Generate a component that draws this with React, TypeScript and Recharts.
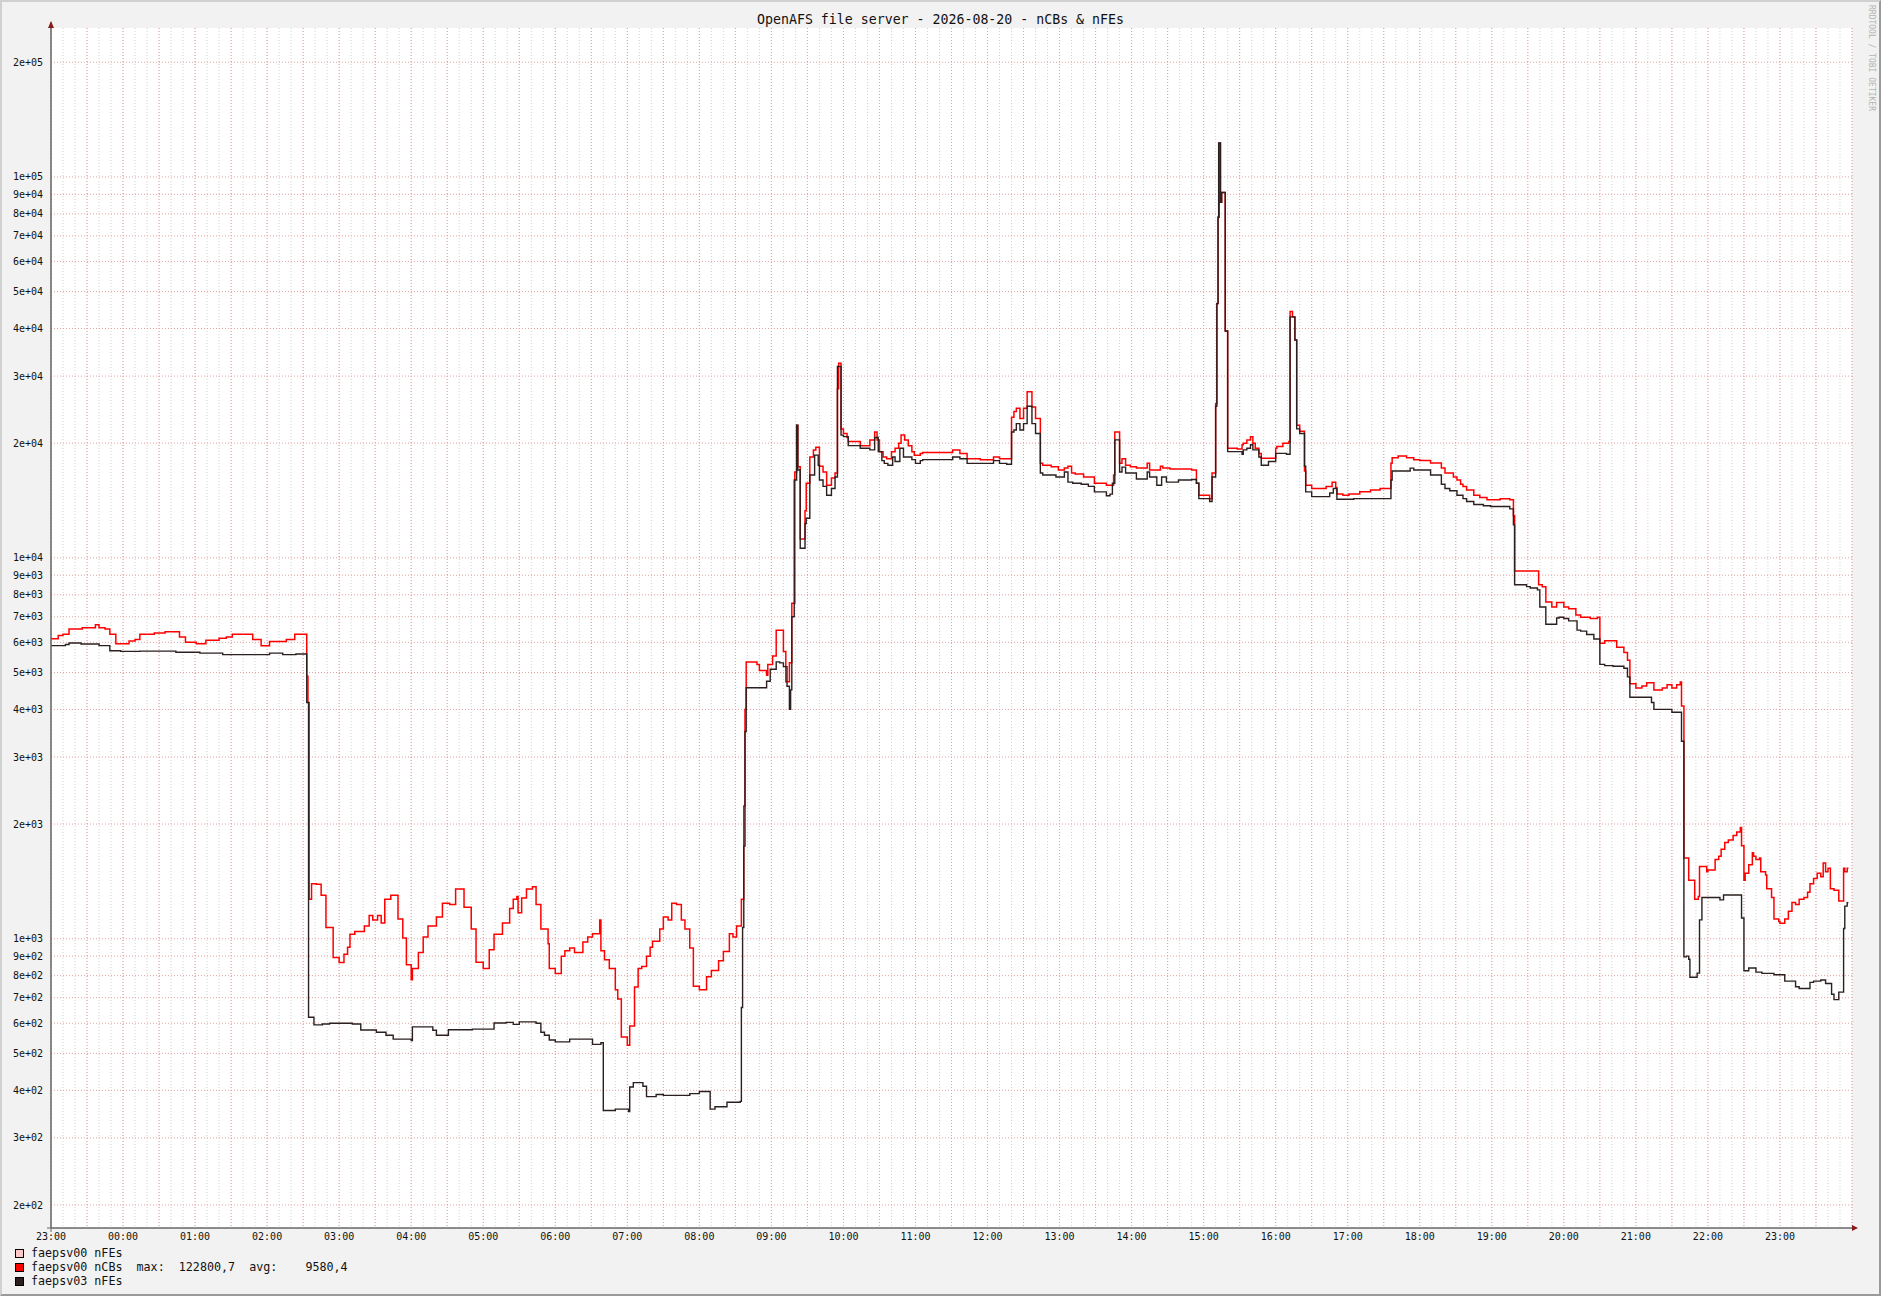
import React from "react";
import { CartesianGrid, Line, LineChart, XAxis, YAxis } from "recharts";

// minutes after 23:00 of the previous day, value
const ncbsSteps: [number, number][] = [
  [0, 6130], [6, 6250], [10, 6300], [15, 6500], [26, 6550], [37, 6670], [40, 6550], [45, 6500],
  [49, 6300], [54, 5950], [65, 6050], [70, 6100], [74, 6300], [86, 6350], [95, 6400], [107, 6200],
  [112, 6000], [121, 5950], [129, 6080], [140, 6150], [146, 6200], [151, 6300], [168, 6100], [175, 5880],
  [182, 6030], [196, 6100], [203, 6300], [213, 4890], [214, 4170],
  [215, 1270], [217, 1395], [221, 1390], [225, 1300], [229, 1070], [235, 893], [240, 866], [244, 910],
  [247, 950], [249, 1028], [253, 1045], [261, 1080], [265, 1150], [268, 1120], [272, 1150], [275, 1100],
  [278, 1270], [283, 1300], [289, 1126], [293, 1005], [296, 855], [300, 780], [301, 835], [306, 920],
  [310, 1010], [314, 1080], [321, 1140], [326, 1240], [332, 1230], [337, 1350], [344, 1210], [350, 1060],
  [354, 868], [360, 835], [365, 935], [369, 1028], [376, 1100], [382, 1200], [385, 1270], [388, 1290],
  [389, 1170], [392, 1280], [396, 1350], [401, 1370], [404, 1230], [408, 1060], [414, 970], [415, 835],
  [420, 810], [425, 900], [428, 930], [432, 945], [436, 920], [443, 980], [447, 1010], [451, 1030],
  [457, 1120], [458, 930], [461, 880], [465, 835], [470, 735], [472, 695], [475, 552], [480, 525],
  [482, 590], [486, 747], [489, 835], [492, 845], [496, 900], [499, 950], [501, 985], [507, 1060],
  [510, 1140], [514, 1120], [517, 1240], [521, 1230], [525, 1120], [528, 1060], [532, 945], [535, 750],
  [540, 735], [546, 795], [550, 825], [556, 875], [560, 925], [565, 1030], [568, 1010], [571, 1080],
  [575, 1270], [577, 2230], [578, 4000], [579, 5330], [588, 5250], [590, 5060], [596, 4920], [597, 5250],
  [601, 5520], [604, 6450], [610, 5680], [612, 4730], [615, 5300], [617, 7600], [619.5, 16800], [621, 22300],
  [622, 17350], [624, 11200], [628, 13300], [629, 15700], [632, 18400], [635, 19200], [637, 19500], [640, 17400],
  [643, 16800], [646, 15500], [650, 16200], [653, 16700], [655, 27800], [656, 32400], [658, 21800], [660, 21200],
  [663, 20700], [664, 20200], [674, 19700], [682, 20400], [686, 21400], [688, 20400], [690, 19000], [693, 18400],
  [696, 18200], [700, 19000], [703, 19400], [706, 20000], [708, 21000], [711, 20400], [714, 19700], [717, 19000],
  [719, 18600], [724, 18800], [726, 18900], [751, 19200], [757, 18800], [763, 18200], [774, 18100], [785, 18400],
  [790, 18200], [800, 23400], [802, 24200], [804, 24700], [807, 23200], [810, 24700], [813, 27300], [817, 24900],
  [820, 23200], [824, 17700], [826, 17500], [833, 17350], [839, 17000], [844, 17200], [847, 17400], [850, 16700],
  [853, 16600], [860, 16300], [869, 15700], [879, 15500], [885, 16500], [886, 21400], [890, 17700], [892, 18200],
  [895, 17500], [899, 17350], [904, 17200], [913, 17700], [915, 17000], [924, 17400], [926, 17200], [932, 17100],
  [950, 17000], [954, 15700], [956, 14600], [965, 14300], [967, 16700], [970, 25400], [971, 46500], [972, 78400],
  [973, 122800], [974, 85800], [975, 91000], [978, 39400], [980, 19400], [988, 19300], [992, 19800], [993, 20000],
  [996, 20400], [999, 20800], [1001, 20000], [1003, 19400], [1006, 18800], [1008, 18250], [1020, 19400], [1021, 19600],
  [1026, 20000], [1031, 20200], [1032, 44300], [1034, 42900], [1036, 37300], [1037.5, 22300], [1040, 21500], [1044, 16900],
  [1045, 15500], [1050, 15200], [1062, 15400], [1067, 15800], [1070, 15300], [1071, 14700], [1076, 14600], [1081, 14700],
  [1090, 14900], [1099, 15070], [1107, 15200], [1116, 17700], [1117, 18300], [1122, 18500], [1129, 18300], [1135, 18100],
  [1140, 18000], [1149, 17750], [1158, 17200], [1161, 16700], [1168, 16300], [1171, 16000], [1174, 15600], [1176, 15380],
  [1179, 15070], [1185, 14600], [1190, 14400], [1196, 14200], [1207, 14300], [1215, 14200], [1218, 12900], [1219, 9240],
  [1239, 8500], [1242, 8400], [1245, 7660], [1250, 7430], [1254, 7630], [1260, 7430], [1264, 7350], [1270, 7080],
  [1274, 6980], [1282, 6930], [1288, 6980], [1290, 5970], [1294, 6060], [1304, 5820], [1310, 5640], [1313, 5380],
  [1315, 4670], [1320, 4550], [1325, 4610], [1329, 4700], [1335, 4500], [1342, 4550], [1346, 4640], [1350, 4550],
  [1354, 4640], [1357, 4720], [1358, 4080], [1360, 1630], [1364, 1424], [1369, 1270], [1372, 1290], [1373, 1548],
  [1379, 1500], [1380, 1516], [1386, 1614], [1389, 1647], [1391, 1718], [1394, 1790], [1397, 1816], [1401, 1866],
  [1404, 1906], [1407, 1960], [1408, 1755], [1410, 1424], [1411, 1485], [1414, 1563], [1417, 1682], [1418, 1647],
  [1420, 1614], [1423, 1630], [1424, 1500], [1428, 1470], [1429, 1352], [1433, 1283], [1435, 1126], [1439, 1110],
  [1440, 1098], [1444, 1126], [1447, 1181], [1450, 1244], [1453, 1230], [1456, 1270], [1460, 1283], [1463, 1324],
  [1465, 1395], [1468, 1440], [1471, 1485], [1474, 1455], [1476, 1580], [1478, 1500], [1480, 1530], [1482, 1352],
  [1485, 1340], [1489, 1257], [1493, 1530], [1494, 1500], [1496, 1530], [1497, 1530],
];

const nfesSteps: [number, number][] = [
  [0, 5880], [12, 5920], [15, 5975], [25, 5940], [40, 5880], [49, 5700], [58, 5680], [74, 5690],
  [104, 5650], [124, 5620], [143, 5570], [182, 5620], [193, 5570], [204, 5590], [213, 4170], [214.5, 622],
  [219, 594], [226, 597], [232, 600], [251, 597], [258, 576], [271, 568], [279, 558], [285, 545],
  [300, 540], [301, 587], [318, 575], [321, 558], [331, 577], [351, 579], [369, 601], [379, 603],
  [385, 596], [390, 605], [404, 600], [408, 568], [411, 558], [415, 542], [420, 536], [432, 545],
  [451, 528], [458, 533], [460, 354], [470, 357], [481, 352], [482, 408], [485, 419], [493, 410],
  [496, 385], [504, 390], [510, 388], [532, 392], [540, 397], [549, 357], [553, 362], [563, 372],
  [574, 374], [575, 660], [576, 1070], [577, 1750], [578, 3500], [579, 4560], [596, 4740], [599, 5100],
  [604, 5330], [607, 5300], [610, 5180], [613, 4600], [615, 4000], [616, 4500], [617, 7000], [619, 16000],
  [621, 22300], [622, 17000], [624, 10600], [628, 12300], [629, 12700], [632, 16500], [636, 18600], [639, 17500],
  [640, 16000], [643, 15400], [646, 14600], [650, 15200], [653, 16300], [655, 31800], [658, 21000], [660, 20800],
  [664, 19700], [674, 19400], [682, 19200], [686, 20700], [689, 19000], [692, 18000], [694, 17700], [697, 17500],
  [701, 18400], [703, 17900], [707, 19400], [710, 18400], [717, 18100], [720, 17700], [724, 18000], [726, 18100],
  [751, 18400], [757, 18200], [763, 17700], [785, 18000], [790, 17700], [796, 17600], [800, 21400], [802, 21650],
  [804, 22500], [807, 21650], [810, 22500], [813, 25000], [817, 22500], [820, 21200], [824, 16700], [826, 16500],
  [837, 16300], [844, 16800], [847, 15800], [851, 15700], [858, 15600], [864, 15400], [869, 14900], [879, 14550],
  [882, 14700], [884, 15700], [886, 20400], [890, 16800], [892, 17300], [895, 16700], [904, 16100], [913, 16800],
  [915, 16300], [921, 15500], [925, 16300], [929, 15800], [939, 16000], [950, 16050], [954, 15700], [956, 14300],
  [965, 14050], [967, 16300], [970, 25000], [971, 46500], [972, 78400], [972.5, 122800], [974, 85800], [975, 91000],
  [978, 39400], [980, 19000], [992, 18700], [993, 19200], [996, 19400], [999, 19800], [1001, 19200], [1006, 18400],
  [1008, 17500], [1014, 17900], [1020, 18800], [1029, 18700], [1032, 42900], [1036, 37300], [1037.5, 21800], [1040, 21200],
  [1044, 17400], [1045, 14900], [1050, 14480], [1065, 14800], [1068, 15200], [1071, 14250], [1085, 14300], [1116, 16000],
  [1117, 16900], [1132, 17200], [1135, 17000], [1149, 16500], [1158, 15600], [1161, 15200], [1165, 15000], [1171, 14600],
  [1176, 14300], [1179, 14050], [1185, 13800], [1193, 13700], [1199, 13640], [1215, 13440], [1218, 12200], [1219, 8500],
  [1229, 8400], [1232, 8330], [1238, 8240], [1240, 7430], [1245, 6690], [1254, 6950], [1256, 6980], [1260, 6930],
  [1264, 6830], [1271, 6460], [1274, 6420], [1279, 6290], [1285, 6120], [1290, 5250], [1294, 5210], [1301, 5190],
  [1310, 5130], [1313, 4870], [1315, 4305], [1333, 4170], [1335, 4000], [1350, 3930], [1358, 3300], [1360, 896],
  [1362, 900], [1364, 883], [1365, 792], [1371, 812], [1373, 1121], [1375, 1283], [1390, 1265], [1393, 1303],
  [1408, 1133], [1410, 824], [1414, 838], [1420, 817], [1425, 811], [1435, 804], [1444, 774], [1453, 748],
  [1456, 740], [1465, 768], [1468, 774], [1474, 779], [1478, 763], [1483, 715], [1485, 692], [1489, 724],
  [1493, 1064], [1494, 1218], [1496, 1244], [1497, 1244],
];

const yTicks = [
  200000, 100000, 90000, 80000, 70000, 60000, 50000, 40000, 30000, 20000,
  10000, 9000, 8000, 7000, 6000, 5000, 4000, 3000, 2000,
  1000, 900, 800, 700, 600, 500, 400, 300, 200,
];
const hourTicks = Array.from({ length: 25 }, (_, i) => i * 60);
const minorTicks = Array.from({ length: 151 }, (_, i) => i * 10);
const majorTicks = Array.from({ length: 51 }, (_, i) => i * 30);

const legendItems = [
  { color: "#ffc8c8", text: "faepsv00 nFEs" },
  { color: "#ff0000", text: "faepsv00 nCBs  max:  122800,7  avg:    9580,4" },
  { color: "#2b1f1f", text: "faepsv03 nFEs" },
];

const mono = "'DejaVu Sans Mono', monospace";

const fmtExp = (v: number) => {
  const e = Math.floor(Math.log10(v) + 1e-9);
  const m = Math.round(v / Math.pow(10, e));
  return `${m}e+${String(e).padStart(2, "0")}`;
};

const fmtHour = (t: number) => {
  const h = (23 + Math.round(t / 60)) % 24;
  return `${String(h).padStart(2, "0")}:00`;
};

const toRows = (steps: [number, number][]) => steps.map(([t, v]) => ({ t, v }));

export default function App() {
  const ncbs = toRows(ncbsSteps);
  const nfes = toRows(nfesSteps);
  return (
    <div
      style={{
        position: "absolute",
        left: 0,
        top: 0,
        width: 1881,
        height: 1296,
        boxSizing: "border-box",
        background: "#f2f2f2",
        borderTop: "2px solid #d0d0d0",
        borderLeft: "2px solid #d0d0d0",
        borderBottom: "2px solid #9a9a9a",
        borderRight: "2px solid #9a9a9a",
        fontFamily: mono,
        overflow: "hidden",
      }}
    >
      <div style={{ position: "absolute", left: -2, top: -2 }}>
        <LineChart width={1881} height={1296} margin={{ top: 28, right: 29, bottom: 38, left: 0 }}>
          <CartesianGrid
            fill="#ffffff"
            horizontal={false}
            verticalValues={minorTicks}
            stroke="#d2d2d2"
            strokeDasharray="1 2"
          />
          <CartesianGrid
            horizontalValues={yTicks}
            verticalValues={majorTicks}
            stroke="#e8a0a0"
            strokeDasharray="1 2"
          />
          <XAxis
            dataKey="t"
            type="number"
            domain={[0, 1500]}
            allowDataOverflow
            ticks={hourTicks}
            interval={0}
            tickFormatter={fmtHour}
            tickLine={false}
            tickSize={4}
            tickMargin={1}
            height={30}
            axisLine={{ stroke: "#666666" }}
            tick={{ fontFamily: mono, fontSize: 10, fill: "#111111" }}
          />
          <YAxis
            dataKey="v"
            type="number"
            scale="log"
            domain={[174, 246000]}
            allowDataOverflow
            ticks={yTicks}
            interval={0}
            tickFormatter={fmtExp}
            tickLine={false}
            width={51}
            axisLine={{ stroke: "#666666" }}
            tick={{ fontFamily: mono, fontSize: 10, fill: "#111111" }}
          />
          <Line
            data={ncbs}
            dataKey="v"
            type="stepAfter"
            stroke="#ff0000"
            strokeWidth={1.5}
            dot={false}
            isAnimationActive={false}
          />
          <Line
            data={nfes}
            dataKey="v"
            type="stepAfter"
            stroke="#2b1f1f"
            strokeWidth={1.4}
            dot={false}
            isAnimationActive={false}
          />
        </LineChart>
      </div>
      <svg
        width={1881}
        height={1296}
        style={{ position: "absolute", left: -2, top: -2, pointerEvents: "none" }}
      >
        <line x1={51} y1={22} x2={51} y2={1232} stroke="#666666" strokeWidth={1} />
        <line x1={47} y1={1228} x2={1853} y2={1228} stroke="#666666" strokeWidth={1} />
        <polygon points="48,28 54,28 51,21" fill="#8b1a1a" />
        <polygon points="1852,1225 1852,1231 1858,1228" fill="#8b1a1a" />
      </svg>
      <div
        style={{
          position: "absolute",
          left: -2,
          top: 10,
          width: 1881,
          textAlign: "center",
          fontSize: 13.25,
          color: "#111111",
          lineHeight: "16px",
        }}
      >
        OpenAFS file server - 2026-08-20 - nCBs &amp; nFEs
      </div>
      <div
        style={{
          position: "absolute",
          left: 1864,
          top: 3,
          writingMode: "vertical-rl",
          fontSize: 8,
          color: "#b4b4b4",
          lineHeight: "10px",
        }}
      >
        RRDTOOL / TOBI OETIKER
      </div>
      {legendItems.map((item, i) => (
        <div
          key={item.text}
          style={{
            position: "absolute",
            left: 13,
            top: 1244 + i * 14,
            height: 14,
            display: "flex",
            alignItems: "center",
            fontSize: 11.7,
            color: "#111111",
            whiteSpace: "pre",
          }}
        >
          <span
            style={{
              display: "inline-block",
              width: 7,
              height: 7,
              background: item.color,
              border: "1px solid #000",
              marginRight: 7,
            }}
          />
          {item.text}
        </div>
      ))}
    </div>
  );
}
